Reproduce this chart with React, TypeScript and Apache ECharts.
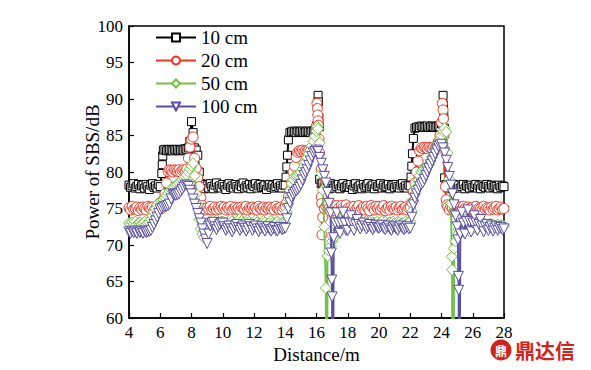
import React, { useEffect, useRef } from "react";
import * as echarts from "echarts";

// ---- data ----
const seriesNames = ["10 cm", "20 cm", "50 cm", "100 cm"];
const xTickValues = [4, 6, 8, 10, 12, 14, 16, 18, 20, 22, 24, 26, 28];
const yTickValues = [60, 65, 70, 75, 80, 85, 90, 95, 100];

// samples every 0.1 m from 4 m to 28 m (one line = 1 m)
const distanceStart = 4;
const distanceStep = 0.1;

const power10 = [
  78.2, 77.9, 78.1, 78.4, 77.8, 78.0, 78.3, 77.7, 78.1, 78.2,
  77.8, 78.3, 78.0, 77.6, 78.2, 78.4, 77.9, 78.1, 77.8, 78.3,
  78.0, 79.8, 83.0, 83.1, 82.9, 83.0, 83.1, 83.0, 82.9, 83.1,
  83.0, 83.1, 82.9, 83.0, 83.1, 83.0, 83.2, 83.1, 83.3, 84.2,
  86.9, 85.4, 83.3, 83.0, 82.3, 80.0, 78.4, 78.0, 77.7, 78.3,
  78.1, 77.8, 78.4, 78.0, 77.7, 78.2, 78.5, 77.9, 78.1, 77.8,
  78.3, 78.0, 77.6, 78.2, 78.4, 77.9, 78.1, 77.8, 78.3, 78.0,
  77.7, 78.2, 78.0, 78.5, 77.8, 78.1, 77.9, 78.3, 77.7, 78.2,
  78.0, 78.4, 77.8, 78.1, 78.3, 77.9, 78.0, 78.2, 77.6, 78.1,
  78.3, 77.9, 78.2, 77.8, 78.0, 78.4, 77.9, 78.1, 77.8, 78.2,
  78.2, 80.7, 84.4, 85.4, 85.5, 85.6, 85.5, 85.4, 85.6, 85.5,
  85.5, 85.6, 85.4, 85.5, 85.6, 85.5, 85.4, 85.6, 85.5, 85.7,
  86.3, 90.5, 79.0, 78.4, 78.5, 77.9, 78.3, 78.0, 77.7, 78.4,
  78.1, 77.8, 78.2, 78.0, 78.3, 77.7, 78.1, 78.4, 77.9, 78.0,
  78.2, 77.9, 78.3, 77.6, 78.1, 78.4, 77.8, 78.0, 78.2, 77.7,
  78.3, 77.9, 78.1, 78.4, 77.8, 78.0, 78.2, 77.7, 78.3, 78.0,
  78.1, 78.4, 77.8, 78.2, 77.9, 78.0, 78.3, 77.7, 78.1, 78.2,
  77.9, 78.3, 78.0, 77.8, 78.2, 78.4, 77.9, 78.1, 77.8, 78.2,
  78.1, 80.8, 84.6, 86.0, 86.1, 86.2, 86.1, 86.3, 86.2, 86.1,
  86.2, 86.3, 86.1, 86.2, 86.3, 86.2, 86.1, 86.2, 86.3, 86.2,
  86.6, 90.5, 79.2, 78.3, 77.8, 78.2, 78.0, 77.7, 78.3, 78.1,
  77.9, 78.2, 77.8, 78.0, 78.3, 77.7, 78.1, 78.0, 77.8, 78.2,
  77.9, 78.0, 78.3, 77.8, 78.1, 77.7, 78.2, 78.0, 77.9, 78.3,
  78.0, 77.8, 78.2, 77.9, 78.1, 78.0, 77.7, 78.2, 77.9, 78.1,
  78.0,
];
// extra samples in the steep transitions: [distance, power]
const extra10 = [
  [6.13, 81.0], [6.16, 82.2], [14.05, 79.3], [14.14, 82.3],
  [16.12, 89.6], [16.15, 87.4], [16.18, 86.2],
  [22.05, 79.3], [22.14, 82.5],
  [24.12, 89.2], [24.15, 87.6], [24.18, 86.0],
];

const power20 = [
  75.1, 74.8, 75.3, 74.9, 75.0, 75.2, 74.7, 75.1, 74.9, 75.2,
  75.0, 74.8, 75.3, 75.1, 74.9, 75.2, 74.7, 75.0, 75.3, 74.9,
  75.1, 75.0, 75.6, 77.0, 78.5, 80.1, 80.3, 80.2, 80.0, 80.3,
  80.2, 80.1, 80.3, 80.0, 80.2, 80.3, 80.1, 80.4, 81.9, 83.4,
  84.5, 84.8, 81.9, 80.5, 79.2, 78.0, 76.5, 75.4, 75.0, 74.8,
  75.1, 74.9, 75.3, 74.8, 75.0, 75.2, 74.8, 75.1, 74.9, 75.3,
  75.0, 75.2, 74.8, 75.1, 74.9, 75.3, 74.8, 75.0, 75.2, 74.9,
  75.1, 74.8, 75.2, 75.0, 74.9, 75.3, 74.8, 75.1, 75.0, 75.2,
  74.9, 75.1, 74.8, 75.3, 75.0, 74.9, 75.2, 74.8, 75.1, 75.0,
  75.2, 74.9, 75.1, 74.8, 75.3, 75.0, 74.9, 75.2, 74.8, 75.1,
  75.3, 75.8, 76.6, 77.5, 78.5, 80.0, 80.8, 82.0, 82.7, 82.9,
  82.8, 83.0, 82.8, 82.9, 82.8, 83.0, 82.9, 82.8, 83.0, 83.2,
  86.3, 87.0, 82.6, 80.4, 73.8, 75.0, 75.3, 75.6, 75.0, 74.6,
  75.5, 75.1, 74.7, 75.4, 75.0, 74.7, 75.4, 75.1, 74.8, 75.5,
  75.0, 74.6, 75.2, 74.9, 75.3, 74.8, 75.1, 75.4, 74.7, 75.0,
  75.2, 74.8, 75.3, 75.0, 74.7, 75.4, 75.1, 74.8, 75.3, 75.0,
  75.3, 74.8, 75.1, 75.4, 74.7, 75.0, 75.2, 74.8, 75.3, 75.0,
  74.9, 75.2, 74.8, 75.1, 75.3, 74.9, 75.0, 75.2, 74.8, 75.1,
  75.2, 75.8, 77.3, 78.5, 80.0, 81.5, 82.9, 83.3, 83.2, 83.4,
  83.3, 83.2, 83.4, 83.3, 83.2, 83.4, 83.3, 83.5, 84.2, 85.0,
  86.8, 88.5, 83.0, 76.2, 75.2, 74.8, 75.3, 75.0, 74.6, 75.4,
  75.1, 74.8, 75.2, 74.9, 75.3, 75.0, 74.7, 75.2, 74.9, 75.1,
  75.2, 74.9, 75.3, 74.7, 75.1, 75.0, 74.8, 75.3, 74.9, 75.1,
  75.0, 74.8, 75.2, 74.9, 75.1, 75.3, 74.8, 75.0, 75.2, 74.9,
  75.0,
];
const extra20 = [
  [16.03, 89.4], [16.06, 88.7], [16.08, 87.8], [16.12, 86.4], [16.16, 84.5],
  [16.31, 76.6], [16.33, 75.7], [16.35, 71.4],
  [24.05, 89.4], [24.12, 87.3], [24.16, 85.0], [24.25, 78.0], [24.34, 75.5],
];

const power50 = [
  73.0, 72.8, 73.1, 72.9, 73.2, 72.8, 73.0, 73.1, 72.9, 73.0,
  73.2, 72.8, 73.0, 73.1, 73.5, 74.0, 74.5, 75.0, 75.5, 75.8,
  76.0, 76.1, 76.2, 76.5, 76.8, 77.1, 77.4, 77.6, 77.9, 78.0,
  78.2, 78.3, 78.5, 78.7, 79.0, 79.2, 79.4, 79.6, 80.0, 80.4,
  80.8, 81.2, 79.5, 77.0, 75.5, 73.5, 72.2, 71.5, 71.0, 71.8,
  72.5, 73.0, 73.3, 72.9, 72.7, 73.1, 73.4, 73.0, 72.8, 73.2,
  73.2, 72.9, 72.6, 72.9, 73.2, 73.5, 73.2, 72.9, 72.7, 73.0,
  73.3, 73.6, 73.3, 73.0, 72.8, 73.1, 73.4, 73.2, 72.9, 72.7,
  73.0, 73.4, 73.1, 72.8, 72.6, 72.9, 73.3, 73.1, 72.8, 72.7,
  73.0, 73.3, 73.0, 72.8, 73.1, 73.2, 72.9, 72.7, 73.0, 73.1,
  73.0, 74.5, 76.3, 77.5, 78.4, 79.0, 79.4, 79.5, 79.6, 79.8,
  80.0, 80.4, 80.8, 81.4, 82.0, 82.5, 83.0, 83.6, 84.2, 84.9,
  85.6, 85.9, 84.0, 79.8, 77.5, 72.5, 64.1, 68.5, 69.2, 69.8,
  70.5, 71.0, 71.6, 72.5, 73.8, 72.8, 72.0, 73.0, 74.0, 73.0,
  72.2, 72.9, 73.6, 73.0, 72.5, 73.0, 73.4, 72.8, 72.9, 73.2,
  73.1, 72.8, 73.3, 72.9, 73.2, 72.7, 73.1, 73.0, 72.8, 73.2,
  72.8, 73.1, 73.3, 72.9, 73.2, 72.7, 73.0, 73.1, 72.8, 73.2,
  73.0, 72.8, 73.2, 73.1, 72.9, 73.0, 72.8, 73.2, 73.0, 73.1,
  73.2, 74.6, 76.0, 77.0, 77.8, 78.8, 79.5, 80.0, 80.3, 80.5,
  80.6, 80.8, 81.0, 81.5, 82.0, 82.5, 83.0, 83.5, 84.0, 84.5,
  85.0, 85.6, 86.0, 85.5, 82.6, 79.0, 75.7, 20.0, 69.5, 70.5,
  71.4, 72.2, 73.0, 72.0, 71.8, 72.8, 73.6, 72.5, 71.9, 73.0,
  73.6, 72.8, 72.3, 73.2, 73.4, 72.6, 72.9, 73.0, 72.5, 72.8,
  72.6, 72.9, 72.4, 72.8, 72.6, 72.5, 72.8, 72.4, 72.7, 72.6,
  72.6,
];
const extra50 = [
  [16.05, 86.2], [16.63, 20], [16.68, 20],
  [24.66, 68.4], [24.68, 66.6], [24.76, 20],
];

const power100 = [
  71.8, 71.6, 71.9, 71.7, 71.8, 71.6, 71.9, 71.7, 71.8, 71.6,
  71.9, 71.7, 71.8, 71.9, 72.0, 72.4, 72.8, 73.3, 73.8, 74.3,
  74.8, 75.0, 75.2, 75.3, 75.3, 75.4, 75.6, 76.3, 77.0, 76.9,
  76.8, 76.9, 77.0, 77.3, 77.6, 77.9, 78.2, 78.2, 78.0, 77.5,
  77.0, 76.3, 75.6, 75.0, 74.3, 73.6, 73.0, 72.2, 71.5, 70.8,
  70.2, 71.5, 72.6, 73.0, 73.1, 72.5, 72.1, 72.5, 72.8, 73.0,
  73.0, 72.5, 72.0, 72.3, 72.6, 72.2, 71.8, 72.2, 72.6, 72.8,
  72.4, 72.0, 72.3, 72.6, 72.3, 71.9, 72.3, 72.8, 72.5, 72.0,
  72.4, 72.6, 72.2, 71.8, 72.2, 72.5, 72.2, 71.9, 72.3, 72.5,
  72.1, 71.9, 72.2, 72.4, 72.0, 71.9, 72.3, 72.4, 72.1, 72.2,
  72.3, 73.6, 75.0, 75.8, 76.5, 76.9, 77.2, 77.4, 77.6, 77.9,
  78.3, 78.9, 79.5, 79.9, 80.3, 80.9, 81.5, 82.1, 82.6, 82.8,
  83.0, 82.8, 82.0, 81.2, 80.3, 79.4, 78.5, 77.2, 75.7, 74.4,
  62.9, 71.0, 73.0, 74.4, 73.0, 71.6, 73.0, 74.5, 73.0, 72.0,
  72.0, 73.0, 74.0, 73.0, 72.0, 72.8, 73.5, 72.8, 72.2, 72.6,
  73.0, 72.6, 72.2, 72.5, 72.8, 72.4, 72.1, 72.4, 72.7, 72.4,
  72.3, 72.5, 72.7, 72.3, 72.1, 72.4, 72.6, 72.2, 72.0, 72.4,
  72.5, 72.2, 72.0, 72.4, 72.6, 72.3, 72.1, 72.3, 72.5, 72.2,
  72.3, 73.8, 75.5, 76.4, 77.0, 77.5, 78.0, 78.3, 78.5, 79.0,
  79.5, 80.0, 80.5, 81.0, 81.5, 82.0, 82.5, 83.0, 83.5, 83.7,
  83.8, 83.3, 82.6, 81.6, 80.6, 79.4, 78.2, 77.0, 75.5, 74.0,
  72.5, 63.8, 71.5, 74.5, 73.0, 71.5, 73.2, 74.8, 73.2, 71.8,
  73.0, 74.0, 73.0, 72.0, 72.8, 73.5, 72.6, 71.8, 72.5, 72.8,
  72.0, 72.4, 72.6, 71.9, 72.3, 72.5, 72.0, 72.3, 72.4, 72.1,
  72.2,
];
const extra100 = [
  [16.95, 68.9], [16.98, 65.2], [17.02, 20], [17.06, 20],
  [25.05, 70.7], [25.08, 65.7], [25.12, 20], [25.16, 20],
];

const FONT = "'Liberation Serif', 'Times New Roman', serif";

function buildSeriesData(values: number[], extras: number[][]) {
  const pts = values.map((v, i) => [
    Math.round((distanceStart + distanceStep * i) * 100) / 100,
    v,
  ]);
  return pts.concat(extras).sort((a, b) => a[0] - b[0]);
}

const styles = [
  { color: "#000000", symbol: "rect", size: 8, rotate: 0 },
  { color: "#ee3524", symbol: "circle", size: 10, rotate: 0 },
  { color: "#72c045", symbol: "diamond", size: 11, rotate: 0 },
  { color: "#5a4fa6", symbol: "triangle", size: 10, rotate: 180 },
];

export default function App() {
  const ref = useRef<HTMLDivElement>(null);

  useEffect(() => {
    if (!ref.current) return;
    const chart = echarts.init(ref.current, undefined, { renderer: "svg" });
    const datasets = [
      buildSeriesData(power10, extra10),
      buildSeriesData(power20, extra20),
      buildSeriesData(power50, extra50),
      buildSeriesData(power100, extra100),
    ];
    chart.setOption({
      animation: false,
      backgroundColor: "#ffffff",
      grid: {
        left: 129,
        right: 87,
        top: 26,
        bottom: 52,
        show: true,
        borderColor: "#000",
        borderWidth: 1.5,
        backgroundColor: "transparent",
      },
      legend: {
        data: seriesNames,
        orient: "vertical",
        left: 155,
        top: 28,
        padding: 0,
        itemWidth: 40,
        itemHeight: 10,
        itemGap: 4,
        textStyle: { fontFamily: FONT, fontSize: 19, color: "#000", lineHeight: 18 },
      },
      xAxis: {
        type: "value",
        min: xTickValues[0],
        max: xTickValues[xTickValues.length - 1],
        interval: 2,
        name: "Distance/m",
        nameLocation: "middle",
        nameGap: 27,
        nameMoveOverlap: false,
        nameTextStyle: { fontFamily: FONT, fontSize: 19, color: "#000" },
        axisLine: { show: true, lineStyle: { color: "#000", width: 1.5 } },
        axisTick: { show: true, inside: true, length: 5, lineStyle: { color: "#000", width: 1.2 } },
        axisLabel: { fontFamily: FONT, fontSize: 17, color: "#000", margin: 6 },
        splitLine: { show: false },
      },
      yAxis: {
        type: "value",
        min: yTickValues[0],
        max: yTickValues[yTickValues.length - 1],
        interval: 5,
        name: "Power of SBS/dB",
        nameLocation: "middle",
        nameGap: 27,
        nameRotate: 90,
        nameMoveOverlap: false,
        nameTextStyle: { fontFamily: FONT, fontSize: 19, color: "#000" },
        axisLine: { show: true, lineStyle: { color: "#000", width: 1.5 } },
        axisTick: { show: true, inside: true, length: 5, lineStyle: { color: "#000", width: 1.2 } },
        axisLabel: { fontFamily: FONT, fontSize: 17, color: "#000", margin: 6 },
        splitLine: { show: false },
      },
      series: seriesNames.map((name, k) => ({
        name,
        type: "line",
        data: datasets[k],
        symbol: styles[k].symbol,
        symbolSize: styles[k].size,
        symbolRotate: styles[k].rotate,
        showAllSymbol: true,
        clip: true,
        z: 2 + k,
        lineStyle: { color: styles[k].color, width: 2 },
        itemStyle: { color: "#ffffff", borderColor: styles[k].color, borderWidth: 1 },
        emphasis: { disabled: true },
      })),
      graphic: [
        {
          type: "circle",
          shape: { cx: 501, cy: 350, r: 10.5 },
          style: { fill: "#d3241c" },
          z: 100,
        },
        {
          type: "text",
          x: 501,
          y: 350,
          style: {
            text: "鼎",
            fill: "#ffffff",
            fontSize: 12,
            fontWeight: "bold",
            fontFamily: "'Noto Sans CJK SC'",
            align: "center",
            verticalAlign: "middle",
          },
          z: 101,
        },
        {
          type: "text",
          x: 515,
          y: 350,
          style: {
            text: "鼎达信",
            fill: "#d3241c",
            fontSize: 20,
            fontWeight: "bold",
            fontFamily: "'Noto Sans CJK SC'",
            align: "left",
            verticalAlign: "middle",
          },
          z: 101,
        },
      ],
    });
    return () => chart.dispose();
  }, []);

  return (
    <div
      ref={ref}
      style={{ position: "absolute", left: 0, top: 0, width: 591, height: 370 }}
    />
  );
}
